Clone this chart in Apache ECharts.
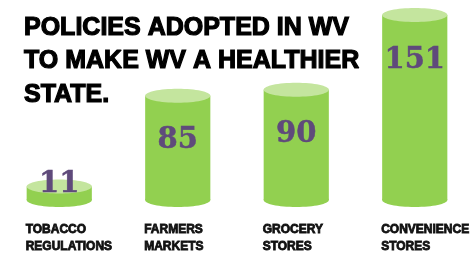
<!DOCTYPE html>
<html>
<head>
<meta charset="utf-8">
<script src="https://cdn.jsdelivr.net/npm/echarts@6/dist/echarts.min.js"></script>
<style>
  html, body { margin: 0; padding: 0; background: #fff; }
  #chart { width: 474px; height: 255px; }
</style>
</head>
<body>
<div id="chart"></div>
<script>
'use strict';

var categories = ['TOBACCO\nREGULATIONS', 'FARMERS\nMARKETS', 'GROCERY\nSTORES', 'CONVENIENCE\nSTORES'];
var policyCounts = [11, 85, 90, 151];
var titleText = 'POLICIES ADOPTED IN WV\nTO MAKE WV A HEALTHIER\nSTATE.';

var bodyColor = '#92d050';
var topColor = '#c4e59e';
var numColor = '#5f4a7b';

var seriesData = [];
for (var i = 0; i < policyCounts.length; i++) {
    seriesData.push([i, policyCounts[i]]);
}

function renderCylinder(params, api) {
    var idx = api.value(0);
    var val = api.value(1);
    var top = api.coord([idx, val]);
    var base = api.coord([idx, 0]);
    var bw = api.size([1, 0])[0];
    var w = bw * 0.55;
    var x0 = top[0] - w / 2;
    var ry = 7;
    var labelY = Math.min(top[1] + 45, base[1] - 16);   // small bar: number sits on the lid

    return {
        type: 'group',
        children: [
            { type: 'ellipse', shape: { cx: base[0], cy: base[1], rx: w / 2, ry: ry }, style: { fill: bodyColor } },
            { type: 'rect', shape: { x: x0, y: top[1], width: w, height: base[1] - top[1] }, style: { fill: bodyColor } },
            { type: 'ellipse', shape: { cx: top[0], cy: top[1], rx: w / 2, ry: ry }, style: { fill: topColor } },
            {
                type: 'text',
                style: {
                    x: top[0], y: labelY,
                    text: String(val),
                    fill: numColor,
                    font: 'bold 29px "DejaVu Serif"',
                    stroke: numColor, lineWidth: 0.5,
                    align: 'center', verticalAlign: 'middle'
                }
            },
            {
                type: 'text',
                style: {
                    x: x0 - 1, y: base[1] + 21,
                    text: categories[idx],
                    fill: '#111',
                    font: 'bold 12px "Liberation Sans"',
                    lineHeight: 17,
                    stroke: '#111', lineWidth: 0.8,
                    align: 'left', verticalAlign: 'top'
                }
            }
        ]
    };
}

var my_chart = echarts.init(document.getElementById('chart'));
my_chart.setOption({
    animation: false,
    title: {
        text: titleText,
        left: 19,
        top: 6,
        textStyle: {
            fontFamily: 'Liberation Sans',
            fontWeight: 'bold',
            fontSize: 25,
            lineHeight: 33.5,
            color: '#000',
            textBorderColor: '#000',
            textBorderWidth: 1.2
        }
    },
    grid: {
        left: -2,
        right: -8,
        top: 15,
        bottom: 55
    },
    xAxis: {
        type: 'category',
        data: categories,
        show: false
    },
    yAxis: {
        type: 'value',
        min: 0,
        max: 151,
        show: false
    },
    series: [{
        type: 'custom',
        renderItem: renderCylinder,
        data: seriesData,
        clip: false
    }]
});
</script>
</body>
</html>
